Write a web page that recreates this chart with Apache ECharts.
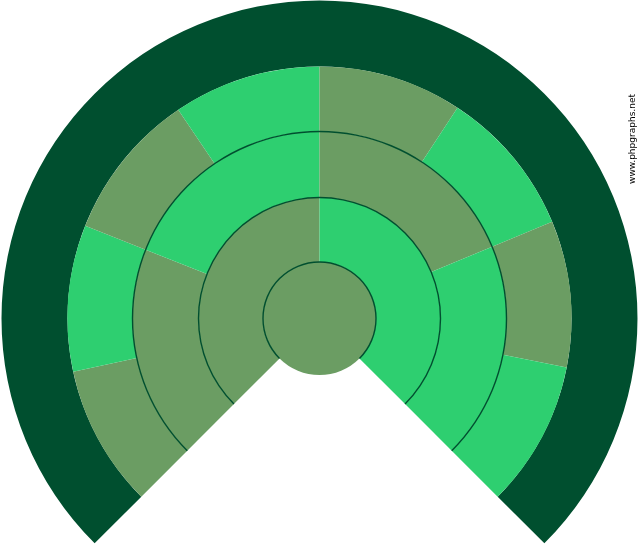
<!DOCTYPE html>
<html>
<head>
<meta charset="utf-8">
<script src="https://cdn.jsdelivr.net/npm/echarts@6/dist/echarts.min.js"></script>
<style>
html,body{margin:0;padding:0;background:#fff;}
#chart{width:640px;height:550px;}
</style>
</head>
<body>
<div id="chart"></div>
<script>
// Angular spans (degrees of a 270-degree fan)
const ring1Values = [135, 135];
const ring2Values = [66.6, 68.4, 67.4, 67.6];
const ring3Values = [32.8, 33.8, 34.3, 34.1, 33.2, 34.2, 33.8, 33.8];
const outerValues = [270];
const watermark = 'www.phpgraphs.net';

const DARK = '#004F2F';
const OLIVE = '#6B9D63';
const GREEN = '#2ECF70';
const CX = 319.5, CY = 318.5;

function alt(values) {
  return values.map((v, i) => ({ value: v, itemStyle: { color: i % 2 === 0 ? OLIVE : GREEN } }));
}
function ring(r0, r1, data, z) {
  return {
    type: 'pie', center: [CX, CY], radius: [r0, r1],
    startAngle: 225, endAngle: -45, clockwise: true,
    silent: true, label: { show: false }, labelLine: { show: false },
    emphasis: { disabled: true }, z: z || 2,
    itemStyle: { borderWidth: 0 },
    data: data
  };
}

const chart = echarts.init(document.getElementById('chart'), null, { renderer: 'canvas' });
chart.setOption({
  backgroundColor: '#ffffff',
  animation: false,
  series: [
    ring(252, 318, outerValues.map(v => ({ value: v, itemStyle: { color: DARK } }))),
    ring(187, 252, alt(ring3Values)),
    ring(121, 187, alt(ring2Values)),
    ring(56.5, 121, alt(ring1Values)),
    {
      type: 'pie', center: [CX, CY], radius: [0, 56.5],
      startAngle: 90, silent: true, label: { show: false }, labelLine: { show: false },
      emphasis: { disabled: true }, z: 3,
      data: [{ value: 1, itemStyle: { color: OLIVE } }]
    },
    ring(55.8, 57.2, [{ value: 1, itemStyle: { color: DARK } }], 4),
    ring(120.3, 121.7, [{ value: 1, itemStyle: { color: DARK } }], 4),
    ring(186.3, 187.7, [{ value: 1, itemStyle: { color: DARK } }], 4)
  ],
  graphic: [{
    type: 'text', x: 633, y: 139, rotation: Math.PI / 2,
    style: {
      text: watermark, fill: '#000', font: '9px "DejaVu Sans"',
      align: 'center', verticalAlign: 'middle'
    }
  }]
});
</script>
</body>
</html>
